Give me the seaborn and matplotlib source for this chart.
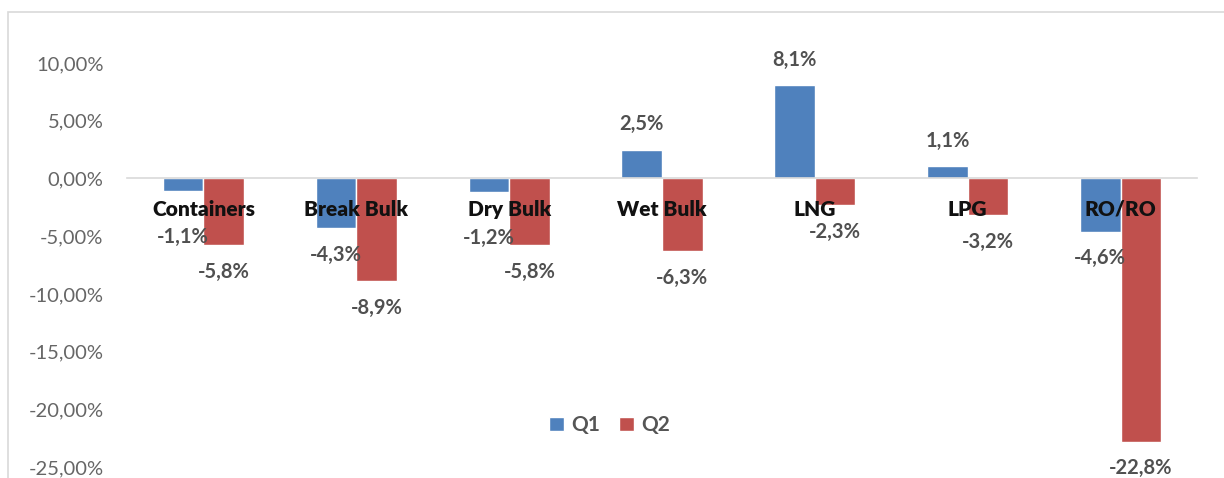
import matplotlib
matplotlib.use("Agg")
import matplotlib.pyplot as plt
import matplotlib.patches as mpatches
import seaborn as sns
import pandas as pd

categories = ["Containers", "Break Bulk", "Dry Bulk", "Wet Bulk", "LNG", "LPG", "RO/RO"]
q1 = [-1.1, -4.3, -1.2, 2.5, 8.1, 1.1, -4.6]
q2 = [-5.8, -8.9, -5.8, -6.3, -2.3, -3.2, -22.8]
series = ["Q1", "Q2"]
yticks = [10, 5, 0, -5, -10, -15, -20, -25]

df = pd.DataFrame({
    "category": categories * 2,
    "quarter": ["Q1"] * len(categories) + ["Q2"] * len(categories),
    "value": q1 + q2,
})

sns.set_theme(style="white")
plt.rcParams["font.family"] = ["Lato", "DejaVu Sans"]

W, H = 1224, 478
fig = plt.figure(figsize=(W / 100, H / 100), dpi=100)
ax = fig.add_axes([127 / W, 1 - 467 / H, (1197 - 127) / W, (467 - 40) / H])

palette = {"Q1": "#4F81BD", "Q2": "#C0504D"}
sns.barplot(data=df, x="category", y="value", hue="quarter", hue_order=series,
            order=categories, palette=palette, width=0.53, saturation=1,
            ax=ax, legend=True)

ax.set_ylim(-25, 12)
ax.set_xlim(-0.5, len(categories) - 0.5)
ax.set_yticks(yticks)
ax.set_yticklabels([f"{v:,.2f}%".replace(".", ",") for v in yticks],
                   color="#666666", fontsize=14.5)
ax.tick_params(axis="y", length=0, pad=17)
ax.tick_params(axis="x", length=0)
ax.set_xticklabels([])
ax.set_xlabel("")
ax.set_ylabel("")

for s in ["top", "right", "left"]:
    ax.spines[s].set_visible(False)
ax.spines["bottom"].set_position(("data", 0))
ax.spines["bottom"].set_color("#d9d9d9")
ax.spines["bottom"].set_linewidth(1.2)

# category labels drawn over the bars, just below the zero line
for i, cat in enumerate(categories):
    ax.annotate(cat, (i, 0), xytext=(0, -22), textcoords="offset points",
                ha="center", va="center", fontsize=15, fontweight="heavy",
                color="#111111", zorder=10, annotation_clip=False)

# data labels
for k, (container, vals) in enumerate(zip(ax.containers, [q1, q2])):
    for bar, v in zip(container, vals):
        x = bar.get_x() + bar.get_width() / 2
        if v >= 0:
            off, va = 11, "bottom"
        else:
            off = -26 if (v > -2 and k == 0) else -12
            va = "top"
        ax.annotate(f"{v:.1f}%".replace(".", ","), (x, v),
                    xytext=(0, off), textcoords="offset points",
                    ha="center", va=va, fontsize=14.5, fontweight="bold",
                    color="#505050", zorder=11, annotation_clip=False)

leg = ax.legend(loc="center", bbox_to_anchor=(0.451, 0.098), ncol=2,
                frameon=False, handlelength=0.7, handleheight=0.7,
                handletextpad=0.35, columnspacing=0.9,
                prop={"size": 15, "weight": "bold"})
for t in leg.get_texts():
    t.set_color("#555555")

fig.patches.append(mpatches.Rectangle((8 / W, -0.1), 1.2, 1 - 12 / H + 0.1,
                                      transform=fig.transFigure, fill=False,
                                      edgecolor="#d9d9d9", linewidth=1.2))

fig.savefig("out.png", dpi=100)
